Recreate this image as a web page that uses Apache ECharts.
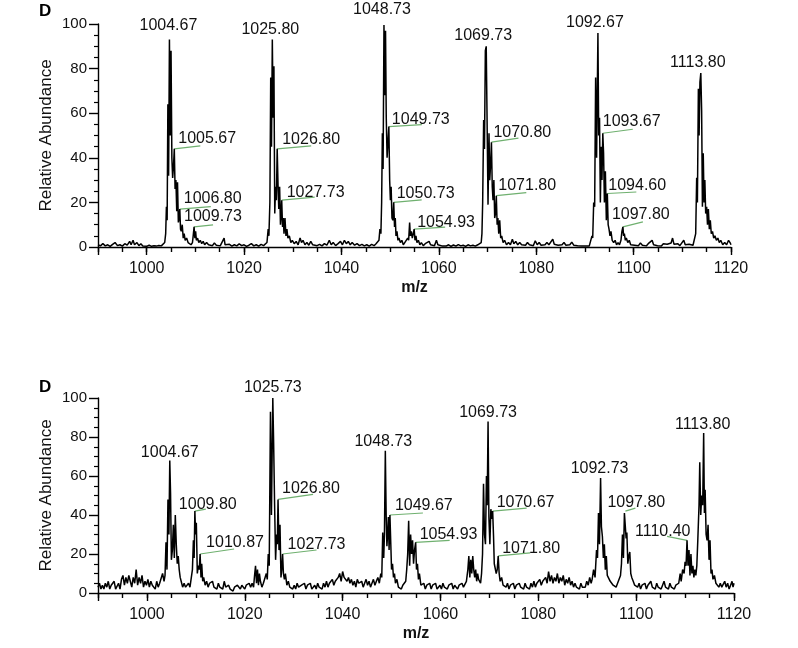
<!DOCTYPE html>
<html>
<head>
<meta charset="utf-8">
<title>Relative Abundance spectra</title>
<script src="https://cdn.jsdelivr.net/npm/echarts@6.0.0/dist/echarts.min.js"></script>
<style>
  html, body { margin: 0; padding: 0; background: #fff; }
  #spectra { width: 798px; height: 648px; }
</style>
</head>
<body>
<div id="spectra"></div>
<script>
// 两张质谱图 (m/z, 相对丰度)
const mzRange = [990, 1120];
const abundanceTicks = [0, 20, 40, 60, 80, 100];

const topSpectrum = [
  [990,1],[990.5,0.5],[991,1.5],[991.5,0.5],[992,1],[992.5,0.3],[993,1.2],[993.5,2],[994,0.6],[994.5,1],[995,0.4],[995.5,1.5],[996,0.8],[996.5,2.5],[996.8,1],[997.2,3],[997.5,1],[998,2],[998.4,0.6],[998.8,1.5],[999.2,0.5],[999.6,1],[1000,0.3],[1000.5,0.8],[1001,0.3],[1001.5,0.6],[1002,0.4],[1002.5,0.7],[1003,0.5],[1003.4,1],
  [1003.7,2],[1003.9,6],[1004.05,18],[1004.2,12],[1004.35,64],[1004.5,32],[1004.67,93],[1004.83,50],[1005.0,88],[1005.17,40],[1005.33,31],[1005.5,36],[1005.67,44],[1005.83,26],[1006.0,30],[1006.17,16],[1006.33,29],[1006.5,11],[1006.65,13],[1006.8,17],[1006.95,8],[1007.1,7],[1007.3,10],[1007.5,4],[1007.7,6],[1007.9,3],[1008.2,4],[1008.5,2],[1008.8,2.5],[1009.1,1],[1009.4,2],[1009.55,5],[1009.73,9],[1009.9,4],[1010.05,7],[1010.2,3],[1010.45,4],[1010.7,2],[1011.0,3],[1011.3,1.5],[1011.6,2.5],[1011.9,1],[1012.3,2],[1012.7,1],[1013.1,1.5],[1013.5,0.6],[1013.9,1.8],[1014.3,0.8],[1014.7,1.2],[1015.1,0.5],[1015.5,1],[1015.9,4],[1016.1,1],[1016.5,0.8],[1017,1.2],[1017.5,0.4],[1018,1],[1018.5,0.5],[1019,1.4],[1019.5,0.6],[1020,1],[1020.5,0.3],[1021,0.8],[1021.5,1.5],[1022,0.5],[1022.5,1],[1023,0.4],[1023.5,1.2],[1024,0.6],[1024.4,1],[1024.7,2],
  [1024.95,8],[1025.1,5],[1025.3,20],[1025.47,76],[1025.63,45],[1025.8,93],[1025.97,58],[1026.13,81],[1026.3,15],[1026.47,27],[1026.63,21],[1026.8,44],[1026.97,28],[1027.13,17],[1027.3,27],[1027.47,10],[1027.6,14],[1027.73,21],[1027.9,9],[1028.05,13],[1028.2,6],[1028.4,13],[1028.6,5],[1028.8,8],[1029.0,4],[1029.3,5],[1029.6,2],[1029.9,3],[1030.3,1.5],[1030.7,2.5],[1031.1,1],[1031.5,4],[1031.8,2],[1032.1,3],[1032.5,1],[1032.9,2],[1033.3,0.8],[1033.7,2.5],[1034.1,1],[1034.5,1.8],[1035,0.6],[1035.5,1.2],[1036,0.5],[1036.5,1.5],[1037,0.8],[1037.5,3],[1037.9,1],[1038.3,2],[1038.8,0.6],[1039.3,1.5],[1039.8,2.5],[1040.2,1],[1040.6,3],[1041,1.5],[1041.4,2.5],[1041.8,1],[1042.2,2],[1042.7,0.8],[1043.2,1.5],[1043.7,0.6],[1044.2,1.2],[1044.7,0.5],[1045.2,1],[1045.7,0.4],[1046.2,1.2],[1046.7,0.6],[1047.1,1.5],[1047.4,1],
  [1047.7,3],[1047.9,8],[1048.1,6],[1048.25,20],[1048.4,51],[1048.55,35],[1048.73,99.5],[1048.9,68],[1049.05,97],[1049.2,58],[1049.37,40],[1049.55,47],[1049.73,54],[1049.9,30],[1050.05,21],[1050.2,27],[1050.37,13],[1050.55,12],[1050.73,20],[1050.9,9],[1051.05,13],[1051.2,5],[1051.4,7],[1051.6,3],[1051.8,4],[1052.1,2],[1052.4,3],[1052.7,1],[1053.0,2],[1053.3,1.5],[1053.6,4],[1053.8,3],[1054.0,11],[1054.15,5],[1054.35,7],[1054.55,4],[1054.75,6],[1054.93,8],[1055.1,3],[1055.3,5],[1055.5,2],[1055.8,3],[1056.1,1],[1056.4,2],[1056.8,0.6],[1057.2,1.5],[1057.6,0.8],[1058,2.5],[1058.3,1],[1058.7,1.8],[1059.1,0.6],[1059.5,3],[1059.8,1],[1060.2,1.5],[1060.6,0.5],[1061,1.2],[1061.5,0.4],[1062,1],[1062.5,0.3],[1063,0.9],[1063.5,0.4],[1064,1.1],[1064.5,0.5],[1065,0.8],[1065.5,0.3],[1066,1],[1066.5,0.5],[1067,0.8],[1067.5,0.4],[1068,1],[1068.4,0.6],
  [1068.7,2],[1068.85,6],[1069.0,20],[1069.2,57],[1069.37,44],[1069.55,88],[1069.73,90],[1069.9,58],[1070.1,19],[1070.3,51],[1070.45,30],[1070.63,37],[1070.8,47],[1070.97,27],[1071.13,21],[1071.3,30],[1071.47,13],[1071.63,15],[1071.8,23],[1071.97,10],[1072.13,13],[1072.3,6],[1072.5,12],[1072.7,4],[1072.9,5],[1073.2,2],[1073.5,3],[1073.9,1],[1074.3,2],[1074.7,1],[1075.1,3.5],[1075.4,1.5],[1075.8,2.5],[1076.2,1],[1076.6,2],[1077,1],[1077.4,1.8],[1077.8,0.8],[1078.2,2],[1078.6,1],[1079,1.5],[1079.4,0.6],[1079.8,2.8],[1080.2,1],[1080.6,2],[1081,0.8],[1081.4,1.6],[1081.8,1],[1082.2,2],[1082.6,1],[1083,1.5],[1083.4,3.5],[1083.7,1.2],[1084.1,2],[1084.5,0.8],[1084.9,1.6],[1085.3,1],[1085.7,2],[1086.1,0.8],[1086.5,1.5],[1086.9,1],[1087.3,2.2],[1087.7,0.8],[1088.1,1.5],[1088.5,0.6],[1088.9,1.2],[1089.3,0.5],[1089.7,1],[1090.1,0.4],[1090.5,0.8],[1090.9,0.5],[1091.2,1],
  [1091.45,5],[1091.6,4],[1091.8,20],[1092.0,18],[1092.2,76],[1092.4,40],[1092.67,96],[1092.83,50],[1093.0,58],[1093.17,20],[1093.35,45],[1093.5,30],[1093.67,51],[1093.83,42],[1094.0,20],[1094.2,34],[1094.4,12],[1094.6,24],[1094.77,10],[1094.95,8],[1095.15,5],[1095.35,7],[1095.6,3],[1095.9,2],[1096.2,3],[1096.5,1],[1096.8,2],[1097.1,1],[1097.4,3],[1097.6,7],[1097.8,9],[1097.95,5],[1098.1,6],[1098.3,3],[1098.5,4],[1098.8,2],[1099.1,3],[1099.4,1],[1099.8,1.8],[1100.2,0.8],[1100.6,1.5],[1101,0.6],[1101.4,1.8],[1101.8,0.8],[1102.2,1.2],[1102.6,0.5],[1103,1.5],[1103.4,0.8],[1103.8,3],[1104.1,1],[1104.5,1.5],[1104.9,0.6],[1105.3,1.2],[1105.7,0.5],[1106.1,1.5],[1106.5,0.8],[1106.9,1.2],[1107.3,0.4],[1107.7,1.8],[1108.0,4],[1108.3,1.2],[1108.7,0.8],[1109.1,1.5],[1109.5,0.6],[1109.9,1.2],[1110.3,3],[1110.6,1],[1111,0.6],[1111.4,1.2],[1111.8,0.5],[1112.2,0.8],[1112.5,1.5],
  [1112.75,6],[1112.95,31],[1113.1,20],[1113.3,71],[1113.45,50],[1113.62,74],[1113.8,78],[1113.97,61],[1114.13,18],[1114.3,42],[1114.47,20],[1114.63,30],[1114.8,15],[1115.0,18],[1115.17,10],[1115.35,17],[1115.55,8],[1115.75,12],[1115.95,6],[1116.2,7],[1116.45,4],[1116.7,5],[1117.0,3],[1117.3,4],[1117.6,2],[1117.9,3],[1118.3,1],[1118.7,2],[1119.1,1],[1119.5,3],[1119.8,2],[1120,1]
];

const bottomSpectrum = [
  [990,3],[990.3,5],[990.6,2],[990.9,4],[991.2,2],[991.5,5],[991.8,3],[992.1,6],[992.4,2],[992.7,4],[993.0,3],[993.3,6],[993.6,2],[993.9,3],[994.2,5],[994.5,2],[994.8,7],[995.1,9],[995.4,4],[995.7,8],[996.0,5],[996.3,9],[996.6,6],[996.9,3],[997.2,8],[997.5,5],[997.8,12],[998.1,4],[998.4,8],[998.7,5],[999.0,9],[999.3,3],[999.6,6],[999.9,4],[1000.2,7],[1000.5,3],[1000.8,6],[1001.1,4],[1001.4,5],[1001.7,2],[1002.0,6],[1002.3,3],[1002.6,5],[1002.9,4],[1003.2,10],[1003.5,6],
  [1003.7,9],[1003.9,26],[1004.1,12],[1004.3,48],[1004.5,30],[1004.67,68],[1004.83,51],[1005.0,17],[1005.2,22],[1005.4,35],[1005.6,18],[1005.8,40],[1006.0,25],[1006.2,15],[1006.4,19],[1006.6,12],[1006.8,8],[1007.0,6],[1007.3,3],[1007.6,5],[1007.9,3],[1008.2,4],[1008.5,5],[1008.8,3],[1009.1,4],[1009.3,12],[1009.5,27],[1009.65,18],[1009.8,42],[1009.95,30],[1010.1,36],[1010.3,10],[1010.5,14],[1010.7,12],[1010.87,20],[1011.05,8],[1011.2,15],[1011.4,6],[1011.6,8],[1011.9,4],[1012.2,6],[1012.5,3],[1012.8,5],[1013.1,4],[1013.4,6],[1013.7,3],[1014.0,4],[1014.3,2],[1014.6,5],[1014.9,3],[1015.2,4],[1015.5,2],[1015.8,6],[1016.1,3],[1016.4,2],[1016.7,4],[1017.0,2],[1017.3,3],[1017.6,1],[1017.9,3],[1018.2,2],[1018.5,4],[1018.8,3],[1019.1,2],[1019.4,4],[1019.7,3],[1020.0,2],[1020.3,4],[1020.6,3],[1020.9,5],[1021.2,3],[1021.5,5],[1021.8,3],[1022.0,9],[1022.2,14],[1022.4,5],[1022.6,12],[1022.8,4],[1023.0,10],[1023.2,6],[1023.5,3],[1023.8,5],[1024.1,4],[1024.4,10],[1024.6,7],
  [1024.8,20],[1025.0,14],[1025.25,93],[1025.45,40],[1025.73,100],[1025.9,77],[1026.1,45],[1026.3,17],[1026.5,30],[1026.65,25],[1026.8,48],[1027.0,22],[1027.2,35],[1027.4,8],[1027.55,12],[1027.73,20],[1027.9,10],[1028.1,7],[1028.3,10],[1028.6,4],[1028.9,6],[1029.2,3],[1029.5,4],[1029.8,2],[1030.1,4],[1030.4,2],[1030.7,5],[1031.0,3],[1031.3,2],[1031.6,4],[1031.9,3],[1032.2,5],[1032.5,2],[1032.8,4],[1033.1,3],[1033.4,5],[1033.7,2],[1034.0,3],[1034.3,4],[1034.6,2],[1034.9,5],[1035.2,3],[1035.5,4],[1035.8,2],[1036.1,5],[1036.4,3],[1036.7,6],[1037.0,3],[1037.3,5],[1037.6,4],[1037.9,7],[1038.2,4],[1038.5,6],[1038.8,5],[1039.1,8],[1039.4,10],[1039.7,6],[1040.0,11],[1040.3,8],[1040.6,9],[1040.9,6],[1041.2,8],[1041.5,5],[1041.8,7],[1042.1,4],[1042.4,6],[1042.7,3],[1043.0,7],[1043.3,5],[1043.6,4],[1043.9,6],[1044.2,3],[1044.5,5],[1044.8,7],[1045.1,4],[1045.4,6],[1045.7,3],[1046.0,5],[1046.3,7],[1046.6,4],[1046.9,6],[1047.2,8],[1047.5,5],
  [1047.8,10],[1048.0,8],[1048.2,31],[1048.4,18],[1048.55,30],[1048.73,73],[1048.9,40],[1049.05,24],[1049.2,30],[1049.35,39],[1049.5,22],[1049.67,40],[1049.85,25],[1050.0,12],[1050.2,15],[1050.4,8],[1050.6,10],[1050.8,5],[1051.1,7],[1051.4,3],[1051.7,4],[1052.0,2],[1052.3,4],[1052.6,3],[1052.9,6],[1053.1,12],[1053.3,20],[1053.5,37],[1053.7,14],[1053.9,30],[1054.1,20],[1054.3,27],[1054.5,15],[1054.7,22],[1054.93,26],[1055.1,12],[1055.3,15],[1055.5,7],[1055.7,10],[1056.0,4],
  [1056.3,3],[1056.6,5],[1056.9,2],[1057.2,4],[1057.5,3],[1057.8,5],[1058.1,2],[1058.4,4],[1058.7,3],[1059.0,5],[1059.3,2],[1059.6,3],[1059.9,4],[1060.2,2],[1060.5,5],[1060.8,3],[1061.1,4],[1061.4,2],[1061.7,4],[1062.0,3],[1062.3,5],[1062.6,2],[1062.9,4],[1063.2,3],[1063.5,2],[1063.8,4],[1064.1,3],[1064.4,5],[1064.7,3],[1065.0,4],[1065.3,6],
  [1065.6,12],[1065.8,19],[1066.0,8],[1066.2,17],[1066.4,10],[1066.6,19],[1066.8,12],[1067.0,8],[1067.2,12],[1067.4,6],[1067.6,10],[1067.8,7],[1068.0,8],[1068.2,5],[1068.4,10],[1068.6,20],[1068.8,56],[1069.0,30],[1069.2,25],[1069.4,60],[1069.55,45],[1069.73,88],[1069.9,39],[1070.1,25],[1070.3,43],[1070.5,38],[1070.67,42],[1070.85,29],[1071.0,15],[1071.2,14],[1071.4,10],[1071.6,12],[1071.8,19],[1072.0,10],[1072.2,6],[1072.5,8],[1072.8,4],[1073.1,5],[1073.4,3],[1073.7,5],[1074.0,2],[1074.3,4],[1074.6,3],[1074.9,5],[1075.2,2],[1075.5,4],[1075.8,3],[1076.1,5],[1076.4,3],[1076.7,4],[1077.0,2],[1077.3,5],[1077.6,3],[1077.9,4],[1078.2,2],[1078.5,5],[1078.8,3],[1079.1,6],[1079.4,3],[1079.7,5],[1080.0,4],[1080.3,7],[1080.6,4],[1080.9,6],[1081.2,5],[1081.5,8],[1081.8,5],[1082.1,11],[1082.4,6],[1082.7,9],[1083.0,5],[1083.3,8],[1083.6,6],[1083.9,10],[1084.2,5],[1084.5,8],[1084.8,6],[1085.1,9],[1085.4,4],[1085.7,7],[1086.0,5],[1086.3,8],[1086.6,4],[1086.9,6],[1087.2,3],[1087.5,5],[1087.8,3],[1088.1,4],[1088.4,2],[1088.7,5],[1089.0,3],[1089.3,4],[1089.6,3],[1089.9,6],[1090.2,4],[1090.5,8],[1090.8,5],[1091.0,7],
  [1091.3,12],[1091.6,8],[1091.9,22],[1092.1,18],[1092.3,41],[1092.5,25],[1092.73,59],[1092.9,34],[1093.1,29],[1093.3,18],[1093.5,25],[1093.7,12],[1093.9,19],[1094.1,9],[1094.4,10],[1094.7,6],[1095.0,7],[1095.3,4],[1095.6,5],[1095.9,3],[1096.2,5],[1096.5,4],[1096.8,9],[1097.0,15],[1097.2,30],[1097.4,18],[1097.6,41],[1097.8,42],[1097.95,28],[1098.1,31],[1098.3,15],[1098.5,19],[1098.7,21],[1098.9,10],[1099.1,8],[1099.4,6],[1099.7,4],[1100.0,5],[1100.3,3],[1100.6,5],[1100.9,2],[1101.2,4],[1101.5,3],[1101.8,5],[1102.1,2],[1102.4,4],[1102.7,3],[1103.0,6],[1103.3,3],[1103.6,4],[1103.9,2],[1104.2,5],[1104.5,3],[1104.8,4],[1105.1,2],[1105.4,4],[1105.7,6],[1106.0,3],[1106.3,4],[1106.6,2],[1106.9,5],[1107.2,3],[1107.5,4],[1107.8,2],[1108.1,4],[1108.4,3],[1108.7,5],
  [1109.0,10],[1109.2,6],[1109.5,12],[1109.8,10],[1110.0,16],[1110.2,14],[1110.4,27],[1110.6,14],[1110.8,22],[1111.0,9],[1111.2,20],[1111.4,10],[1111.6,14],[1111.8,8],[1112.0,12],[1112.2,9],[1112.4,14],[1112.6,27],[1112.85,45],[1113.0,67],[1113.2,40],[1113.4,50],[1113.6,45],[1113.8,82],[1113.95,41],[1114.1,53],[1114.3,30],[1114.5,27],[1114.7,35],[1114.9,17],[1115.1,27],[1115.3,10],[1115.5,12],[1115.7,7],[1116.0,9],[1116.3,5],[1116.6,6],[1116.9,3],[1117.2,5],[1117.5,3],[1117.8,4],[1118.1,6],[1118.4,3],[1118.7,5],[1119.0,2],[1119.3,4],[1119.6,6],[1119.8,3],[1120,5]
];

// 峰标注: [m/z, 丰度]
const topMainPeaks = [[1004.67,93],[1025.80,93],[1048.73,99.5],[1069.73,90],[1092.67,96],[1113.80,78]];
const topIsoPeaks = [[1005.67,44],[1006.80,17],[1009.73,9],[1026.80,44],[1027.73,21],[1049.73,54],[1050.73,20],[1054.93,8],[1070.80,47],[1071.80,23],[1093.67,51],[1094.60,24],[1097.80,9]];
const bottomMainPeaks = [[1004.67,68],[1025.73,100],[1048.73,73],[1069.73,88],[1092.73,59],[1113.80,82]];
const bottomIsoPeaks = [[1009.80,42],[1010.87,20],[1026.80,48],[1027.73,20],[1049.67,40],[1054.93,26],[1070.67,42],[1071.80,19],[1097.80,42],[1110.40,27]];

// 标注位置 (像素偏移): 主峰 [dx, dy]; 同位素峰 [文字dx, 文字dy, 引线dx, 引线dy]
const topMainLayout = [[-1,-14],[-2,-10],[-2,-16],[-3,-11],[-3,-10],[-3,-10]];
const bottomMainLayout = [[0,-8],[0,-10],[-2,-9],[0,-9],[-1,-9],[-1,-9]];
const topIsoLayout = [
  [4,-10,26,-3],[4,-10,31,-2.5],[-10,-10,19,-2],[5,-9,34,-3],[5,-8,33,-3],
  [3,-7,33,-2],[3,-9,28,-2.5],[3,-7,31,-2],[2,-10,27,-4],[2,-10,30,-3],
  [0,-12,30,-4],[1,-8,29,-1.5],[-11,-12,20,-5]
];
const bottomIsoLayout = [
  [-16,-7,11,-2],[6,-11,34,-5],[4,-11,35,-5],[5,-9,34,-4],[5,-9,33,-2],
  [4,-8,34,-2],[4,-9,34,-3],[4,-7,32,-3],[-18,-9,10,-3],[-52,-9,-20,-4]
];

const FONT = '"Liberation Sans", Arial, sans-serif';
const chart = echarts.init(document.getElementById('spectra'));

function peakLabels(layout, leader) {
  return function (params, api) {
    const p = api.coord([api.value(0), api.value(1)]);
    const o = layout[params.dataIndex];
    const kids = [];
    if (leader) {
      kids.push({
        type: 'line',
        shape: { x1: p[0], y1: p[1], x2: p[0] + o[2], y2: p[1] + o[3] },
        style: { stroke: '#6fb06f', lineWidth: 1.2 }
      });
    }
    kids.push({
      type: 'text',
      x: p[0] + o[0],
      y: p[1] + o[1],
      style: {
        text: api.value(0).toFixed(2),
        fill: '#111',
        fontSize: 16,
        fontFamily: FONT,
        align: leader ? 'left' : 'center',
        verticalAlign: 'middle'
      }
    });
    return { type: 'group', children: kids };
  };
}

function minorX(gridIndex) {
  return {
    type: 'value', gridIndex: gridIndex, position: 'bottom',
    min: mzRange[0], max: mzRange[1], interval: 5,
    axisLine: { show: true, lineStyle: { color: '#000', width: 1.4 } },
    axisTick: { show: true, length: 5, lineStyle: { color: '#000', width: 1.4 } },
    axisLabel: { show: false },
    splitLine: { show: false }
  };
}

function majorX(gridIndex) {
  return {
    type: 'value', gridIndex: gridIndex, position: 'bottom',
    min: mzRange[0], max: mzRange[1], minInterval: 20, maxInterval: 20,
    axisLine: { show: false },
    axisTick: { show: true, length: 8, lineStyle: { color: '#000', width: 1.4 } },
    axisLabel: {
      color: '#111', fontSize: 16, fontFamily: FONT, margin: 14,
      formatter: v => (v % 20 === 0 ? String(v) : '')
    },
    splitLine: { show: false },
    name: 'm/z', nameLocation: 'middle', nameGap: 33,
    nameTextStyle: { color: '#111', fontSize: 16, fontWeight: 'bold', fontFamily: FONT }
  };
}

function abundanceY(gridIndex) {
  return {
    type: 'value', gridIndex: gridIndex,
    min: abundanceTicks[0], max: abundanceTicks[abundanceTicks.length - 1], interval: 20,
    axisLine: { show: true, lineStyle: { color: '#000', width: 1.4 } },
    axisTick: { show: true, length: 9, lineStyle: { color: '#000', width: 1.4 } },
    minorTick: { show: true, splitNumber: 4, length: 4, lineStyle: { color: '#000', width: 1.2 } },
    axisLabel: { color: '#111', fontSize: 15, fontFamily: FONT, margin: 11 },
    splitLine: { show: false },
    name: 'Relative Abundance', nameLocation: 'middle', nameGap: 43, nameRotate: 90,
    nameMoveOverlap: false,
    nameTextStyle: { color: '#111', fontSize: 17, fontFamily: FONT }
  };
}

const option = {
  animation: false,
  backgroundColor: '#fff',
  grid: [
    { left: 98, right: 67, top: 24, height: 223 },
    { left: 98, right: 64, top: 398, height: 195 }
  ],
  xAxis: [minorX(0), majorX(0), minorX(1), majorX(1)],
  yAxis: [abundanceY(0), abundanceY(1)],
  graphic: [
    { type: 'text', left: 39, top: 3, style: { text: 'D', font: 'bold 17px ' + FONT, fill: '#000' } },
    { type: 'text', left: 39, top: 379, style: { text: 'D', font: 'bold 17px ' + FONT, fill: '#000' } }
  ],
  series: [
    {
      type: 'line', xAxisIndex: 0, yAxisIndex: 0, data: topSpectrum,
      showSymbol: false, symbol: 'none', lineStyle: { color: '#000', width: 1.5 }
    },
    { type: 'custom', xAxisIndex: 0, yAxisIndex: 0, data: topMainPeaks, clip: false, renderItem: peakLabels(topMainLayout, false) },
    { type: 'custom', xAxisIndex: 0, yAxisIndex: 0, data: topIsoPeaks, clip: false, renderItem: peakLabels(topIsoLayout, true) },
    {
      type: 'line', xAxisIndex: 2, yAxisIndex: 1, data: bottomSpectrum,
      showSymbol: false, symbol: 'none', lineStyle: { color: '#000', width: 1.5 }
    },
    { type: 'custom', xAxisIndex: 2, yAxisIndex: 1, data: bottomMainPeaks, clip: false, renderItem: peakLabels(bottomMainLayout, false) },
    { type: 'custom', xAxisIndex: 2, yAxisIndex: 1, data: bottomIsoPeaks, clip: false, renderItem: peakLabels(bottomIsoLayout, true) }
  ]
};

chart.setOption(option);
</script>
</body>
</html>
